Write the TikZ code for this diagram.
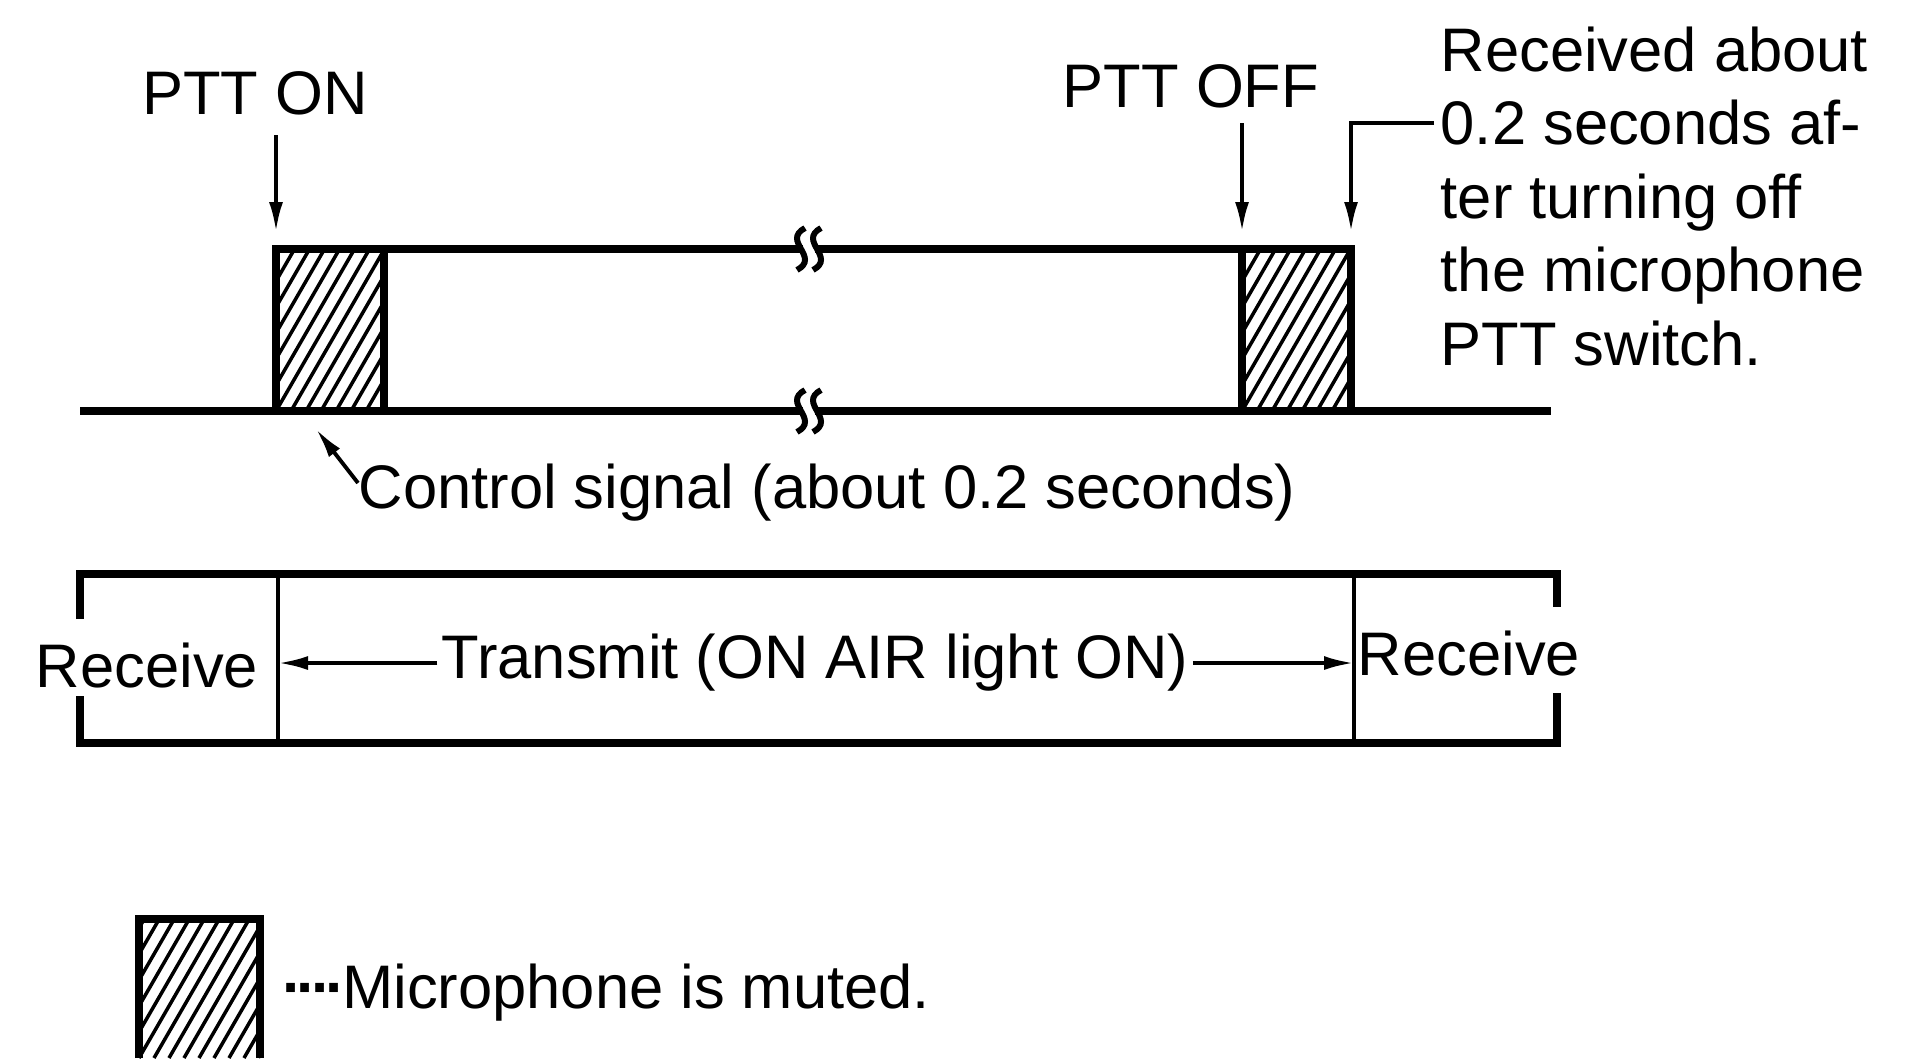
\documentclass[tikz,border=0pt]{standalone}
\usepackage{fontspec}
\setmainfont{Liberation Sans}
\usetikzlibrary{arrows.meta}
\usetikzlibrary{positioning}
\newcommand{\lineBreak}[1]{
    \fill [white] ([xshift=-0.6mm, yshift=-1.4mm]#1) rectangle ([xshift=0.6mm, yshift=1.4mm]#1);
    \foreach \dx in {-0.8, 0.8} {
        \draw [line width=1.7pt] ([xshift=\dx mm + 0.4mm, yshift=2.1mm]#1) .. controls ([xshift=\dx mm - 2mm, yshift=0.8mm]#1) and ([xshift=\dx mm + 2mm, yshift=-0.8mm]#1) .. ([xshift=\dx mm - 0.4mm, yshift=-2.1mm]#1);
    }
}
\newcommand{\hatchBox}[2]{
    \begin{scope}
        \clip (#1) rectangle (#2);
        \foreach \k in {-12,...,12} {
            \draw [line width=1pt] ([xshift=\k*1.5mm]#1 |- #2) -- ++(60:4cm);
        }
    \end{scope}
}

\begin{document}
\begin{tikzpicture}[x=0.1mm, y=-0.1mm, inner sep=0pt, font=\fontsize{17.5}{20.9}\selectfont,
    signal/.style={line width=2.2pt},
    tip/.style={line width=1.1pt, -{Latex[length=3mm, width=1.4mm]}}]
    \useasboundingbox (0,0) rectangle (1922,1058);

    \coordinate (on) at (276,249);
    \coordinate (onEnd) at (384,411);
    \coordinate (off) at (1242,249);
    \coordinate (rx) at (1351,411);
    \coordinate (brkTop) at (809,249);
    \coordinate (brkBot) at (809,411);

    % the two muted pulses
    \hatchBox{on}{onEnd}
    \hatchBox{off}{rx}
    \draw [signal] (80,411) -- (1551,411);
    \draw [signal] (on |- brkBot) -- (on) -- (rx |- on) -- (rx);
    \draw [signal] (onEnd) -- (onEnd |- on);
    \draw [signal] (off) -- (off |- rx);
    \lineBreak{brkTop}
    \lineBreak{brkBot}

    \node (ptton) at (255,93) {PTT ON};
    \node (pttoff) at (1191,86) {PTT OFF};
    \node (rxnote) [anchor=north west, align=left] at (1440,26) {Received about\\0.2 seconds af-\\ter turning off\\the microphone\\PTT switch.};
    \node (ctrl) [anchor=west] at (358,493) {Control signal (about 0.2 seconds)};
    \coordinate (rxTail) at (1434,123);
    \coordinate (ctrlTip) at (316,429);

    \draw [tip] ([yshift=-2mm]ptton.south -| on) -- ([yshift=1.7mm]on);
    \draw [tip] ([yshift=-1.5mm]pttoff.south -| off) -- ([yshift=1.7mm]off);
    \draw [tip] (rxTail) -| ([yshift=1.7mm]rx |- on);
    \draw [tip] ([yshift=1mm]ctrl.west) -- (ctrlTip);

    % transmit / receive bar
    \coordinate (boxNW) at (80,574);
    \coordinate (boxSE) at (1557,743);
    \coordinate (txStart) at (278,574);
    \coordinate (txEnd) at (1354,574);
    \draw [signal] (80,619) -- (boxNW) -- (boxNW -| boxSE) -- (1557,607);
    \draw [signal] (80,696) -- (boxNW |- boxSE) -- (boxSE) -- (1557,693);
    \draw [line width=1.1pt] (txStart) -- (txStart |- boxSE);
    \draw [line width=1.1pt] (txEnd) -- (txEnd |- boxSE);
    \node (rxL) at (147,666) {Receive};
    \node (rxR) at (1469,653) {Receive};
    \node (tx) at (815,663) {Transmit (ON AIR light ON)};
    \draw [tip] ([xshift=-0.4mm]tx.west) -- (tx.west -| txStart);
    \draw [tip] ([xshift=0.4mm]tx.east) -- (tx.east -| txEnd);

    % legend
    \coordinate (keyNW) at (139,919);
    \coordinate (keyS) at (260,1058);
    \hatchBox{keyNW}{keyS}
    \draw [signal] (keyNW |- keyS) -- (keyNW) -- (keyNW -| keyS) -- (keyS);
    \node (key) [anchor=west] at (282,993) {\textbf{·\kern-1.8pt·\kern-1.8pt·\kern-1.8pt·}\kern-1pt Microphone is muted.};
\end{tikzpicture}
\end{document}
